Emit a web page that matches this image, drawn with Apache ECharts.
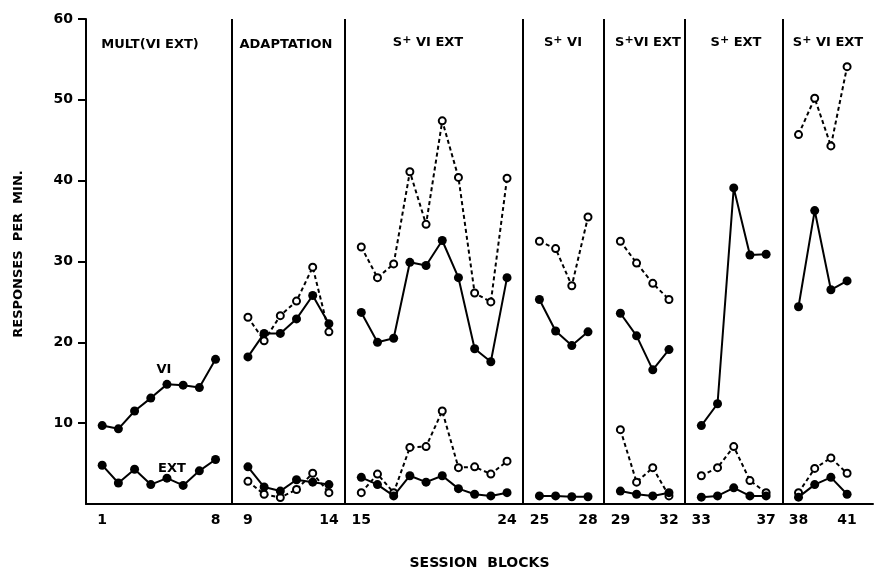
<!DOCTYPE html>
<html><head><meta charset="utf-8">
<script src="https://cdn.jsdelivr.net/npm/echarts@6/dist/echarts.min.js"></script>
<style>html,body{margin:0;padding:0;background:#fff}#c{width:874px;height:575px}</style>
</head><body><div id="c"></div>
<script>
// ---- data ----
const phaseFirstBlock = [1, 9, 15, 25, 29, 33, 38];
const blockTickLabels = [1, 8, 9, 14, 15, 24, 25, 28, 29, 32, 33, 37, 38, 41];
const yTicks = [10, 20, 30, 40, 50, 60];
// solid line (filled circles), upper: VI component
const viSolid = [
  9.7, 9.3, 11.5, 13.1, 14.8, 14.7, 14.4, 17.9,
  18.2, 21.1, 21.1, 22.9, 25.8, 22.3,
  23.7, 20.0, 20.5, 29.9, 29.5, 32.6, 28.0, 19.2, 17.6, 28.0,
  25.3, 21.4, 19.6, 21.3,
  23.6, 20.8, 16.6, 19.1,
  9.7, 12.4, 39.1, 30.8, 30.9,
  24.4, 36.3, 26.5, 27.6
];
// dashed line (open circles), upper
const viOpen = [
  null, null, null, null, null, null, null, null,
  23.1, 20.2, 23.3, 25.1, 29.3, 21.3,
  31.8, 28.0, 29.7, 41.1, 34.6, 47.4, 40.4, 26.1, 25.0, 40.3,
  32.5, 31.6, 27.0, 35.5,
  32.5, 29.8, 27.3, 25.3,
  null, null, null, null, null,
  45.7, 50.2, 44.3, 54.1
];
// solid line (filled circles), lower: EXT component
const extSolid = [
  4.8, 2.6, 4.3, 2.4, 3.2, 2.3, 4.1, 5.5,
  4.6, 2.1, 1.6, 3.0, 2.7, 2.4,
  3.3, 2.4, 1.0, 3.5, 2.7, 3.5, 1.9, 1.2, 1.0, 1.4,
  1.0, 1.0, 0.9, 0.9,
  1.6, 1.2, 1.0, 1.4,
  0.85, 1.0, 2.0, 1.0, 1.0,
  0.85, 2.4, 3.3, 1.2
];
// dashed line (open circles), lower
const extOpen = [
  null, null, null, null, null, null, null, null,
  2.8, 1.2, 0.8, 1.8, 3.8, 1.4,
  1.4, 3.7, 1.4, 7.0, 7.1, 11.5, 4.5, 4.6, 3.7, 5.3,
  null, null, null, null,
  9.2, 2.7, 4.5, 1.0,
  3.5, 4.5, 7.1, 2.9, 1.4,
  1.4, 4.4, 5.7, 3.8
];

// ---- helpers ----
function phaseOf(b) { let p = 0; phaseFirstBlock.forEach((f, i) => { if (b >= f) p = i; }); return p; }
function pos(b) { return b - 1 + phaseOf(b); }
function build(vals) {
  const out = []; let last = 0;
  vals.forEach((v, i) => {
    const b = i + 1, p = phaseOf(b);
    if (p !== last) { out.push([pos(b) - 1, null]); last = p; }
    out.push([pos(b), v]);
  });
  return out;
}
const dividers = phaseFirstBlock.slice(1).map(b => ({ xAxis: pos(b) - 1 }));
const posToBlock = {}; blockTickLabels.forEach(b => posToBlock[pos(b)] = b);

const FONT = 'DejaVu Sans';
const solidS = (data) => ({
  type: 'line', data, symbol: 'circle', symbolSize: 9, connectNulls: false,
  itemStyle: { color: '#000' }, lineStyle: { color: '#000', width: 2 }, animation: false, z: 3
});
const openS = (data) => ({
  type: 'line', data, symbol: 'emptyCircle', symbolSize: 7, connectNulls: false,
  itemStyle: { color: '#000', borderWidth: 2, borderColor: '#000' },
  lineStyle: { color: '#000', width: 2, type: [4, 3] }, animation: false, z: 2
});

const chart = echarts.init(document.getElementById('c'));
function title(x, y, pre, post) {
  return {
    type: 'text', x: x, y: y,
    style: {
      text: post === undefined ? '{s|' + pre + '}' : '{s|' + pre + '}{p|+}{s|' + post + '}',
      rich: {
        s: { fontFamily: FONT, fontWeight: 'bold', fontSize: 13, fill: '#000' },
        p: { fontFamily: FONT, fontWeight: 'bold', fontSize: 11, fill: '#000', verticalAlign: 'bottom', padding: [0, 0, 6, 0] }
      },
      align: 'center', verticalAlign: 'middle'
    }
  };
}
chart.setOption({
  backgroundColor: '#fff',
  animation: false,
  grid: { left: 86, right: 1, top: 19, bottom: 67 },
  xAxis: {
    type: 'value', min: -1, max: 47.6,
    axisLine: { onZero: false, lineStyle: { color: '#000', width: 2 } },
    axisTick: { show: false },
    splitLine: { show: false },
    axisLabel: {
      customValues: blockTickLabels.map(pos),
      formatter: v => posToBlock[v] !== undefined ? String(posToBlock[v]) : '',
      color: '#000', fontFamily: FONT, fontWeight: 'bold', fontSize: 14, margin: 9
    },
    name: 'SESSION  BLOCKS', nameLocation: 'middle', nameGap: 52,
    nameTextStyle: { color: '#000', fontFamily: FONT, fontWeight: 'bold', fontSize: 14 }
  },
  yAxis: {
    type: 'value', min: 0, max: 60, interval: 10,
    axisLine: { show: true, onZero: false, lineStyle: { color: '#000', width: 2 } },
    axisTick: { show: true, length: 8, lineStyle: { color: '#000', width: 2 }, customValues: yTicks },
    splitLine: { show: false },
    axisLabel: { customValues: yTicks, color: '#000', fontFamily: FONT, fontWeight: 'bold', fontSize: 14, margin: 13 },
    name: ''
  },
  series: [
    Object.assign(solidS(build(viSolid)), {
      markLine: {
        silent: true, symbol: 'none', animation: false,
        label: { show: false },
        lineStyle: { color: '#000', width: 2, type: 'solid' },
        data: dividers
      }
    }),
    openS(build(viOpen)),
    solidS(build(extSolid)),
    openS(build(extOpen))
  ],
  graphic: [
    title(150, 45, 'MULT(VI EXT)'),
    title(286, 45, 'ADAPTATION'),
    title(428, 43, 'S', ' VI EXT'),
    title(563, 43, 'S', ' VI'),
    title(648, 43, 'S', 'VI EXT'),
    title(736, 43, 'S', ' EXT'),
    title(828, 43, 'S', ' VI EXT'),
    { type: 'text', x: 164, y: 370, style: { text: 'VI', font: 'bold 13px ' + FONT, fill: '#000', align: 'center', verticalAlign: 'middle' } },
    { type: 'text', x: 172, y: 469, style: { text: 'EXT', font: 'bold 13px ' + FONT, fill: '#000', align: 'center', verticalAlign: 'middle' } },
    { type: 'text', x: 19, y: 254, rotation: Math.PI / 2, style: { text: 'RESPONSES  PER  MIN.', font: 'bold 13px ' + FONT, fill: '#000', align: 'center', verticalAlign: 'middle' } }
  ]
});
</script></body></html>
